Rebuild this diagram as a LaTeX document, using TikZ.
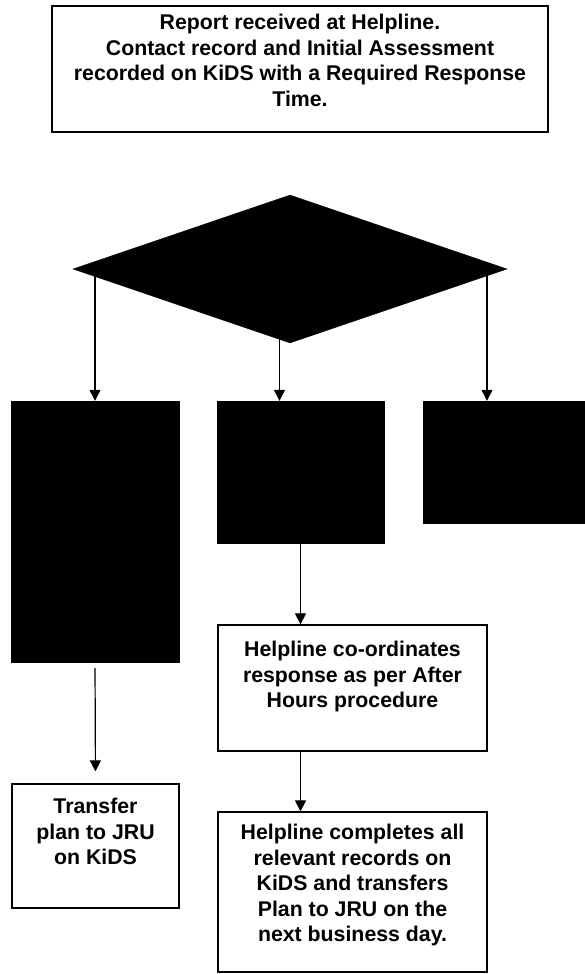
\documentclass[tikz,border=0pt]{standalone}
\usepackage{fontspec}
\setmainfont{Liberation Sans}
\usetikzlibrary{arrows.meta,shapes.geometric,positioning}
\tikzset{
  box/.style={draw, line width=1.3pt, inner sep=0pt},
  dark/.style={draw=black, fill=black, inner sep=0pt},
  txt/.style={align=center, inner sep=0pt, font=\bfseries\fontsize{21.3}{25.5}\selectfont},
  arr/.style={-{Triangle[width=11pt,length=11pt]}, line width=1.2pt},
}

\begin{document}
\begin{tikzpicture}[x=1pt,y=-1pt]
		\useasboundingbox (0,0) rectangle (585,974);
		%%%%% START %%%%%
		\node[box, minimum width=496pt, minimum height=126pt] (report) at (300,69) {};
		\node[txt, below=9pt of report.north] (reporttxt) {Report received at Helpline.\\Contact record and Initial Assessment\\recorded on KiDS with a Required Response\\Time.};
		
		\node[dark, diamond, minimum width=434pt, minimum height=148pt] (decide) at (290,269) {};
		
		\node[dark, minimum width=168pt, minimum height=261pt] (left) at (95,531.5) {};
		\node[dark, minimum width=167pt, minimum height=142pt] (mid) at (300.5,472) {};
		\node[dark, minimum width=162pt, minimum height=122pt] (right) at (504,462) {};
		
		\draw[arr] (left.north |- decide.center) -- (left.north);
		\draw[arr] ([xshift=-21pt]mid.north |- decide.center) -- ([xshift=-21pt]mid.north);
		\draw[arr] ([xshift=-17pt]right.north |- decide.center) -- ([xshift=-17pt]right.north);
		
		\node[box, minimum width=269pt, minimum height=126pt] (coord) at (352.5,688) {};
		\node[txt, below=17pt of coord.north] (coordtxt) {Helpline co-ordinates\\response as per After\\Hours procedure};
		
		\node[box, minimum width=167pt, minimum height=124pt] (transfer) at (95.5,846) {};
		\node[txt, below=15pt of transfer.north] (transfertxt) {Transfer\\plan to JRU\\on KiDS};
		
		\node[box, minimum width=269pt, minimum height=160pt] (complete) at (352.5,892) {};
		\node[txt, below=13pt of complete.north] (completetxt) {Helpline completes all\\relevant records on\\KiDS and transfers\\Plan to JRU on the\\next business day.};
		
		\draw[arr, shorten <=6pt, shorten >=12pt] (left.south) -- (transfer.north);
		\draw[arr] (mid.south) -- (mid.south |- coord.north);
		\draw[arr] (coord.south -| mid.south) -- (complete.north -| mid.south);
		%%%%% END %%%%%
	\end{tikzpicture}
\end{document}
